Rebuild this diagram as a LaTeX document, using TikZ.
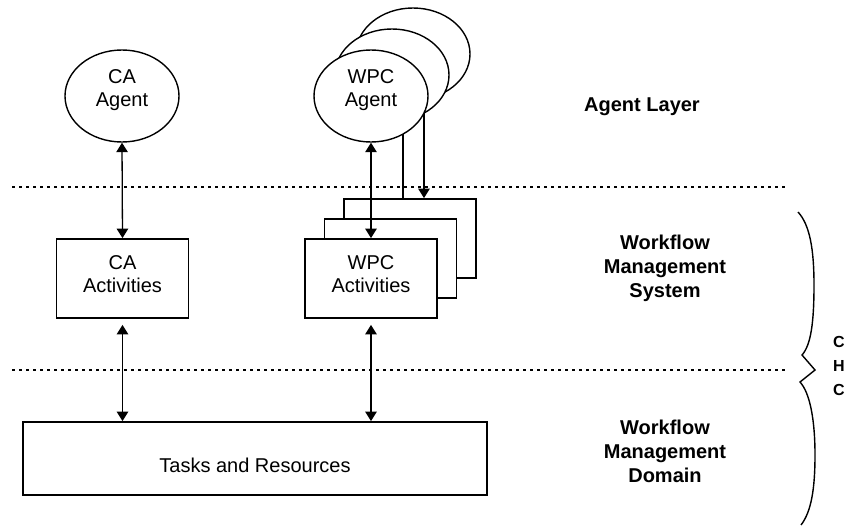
\documentclass[tikz,border=0pt]{standalone}
\usepackage{fontspec}
\setmainfont{Liberation Sans}
\usetikzlibrary{arrows.meta,backgrounds,shapes.geometric}

\tikzset{
  txt/.style={font=\fontsize{20}{23.5}\selectfont, align=center, inner sep=0pt},
  lbl/.style={font=\fontsize{20}{24}\selectfont\bfseries, align=center},
  agent/.style={ellipse, draw, line width=1.4pt, fill=white,
    minimum width=114pt, minimum height=92pt, inner sep=0pt},
  actbox/.style={rectangle, draw, line width=1.8pt, fill=white,
    minimum width=132pt, minimum height=79pt, inner sep=0pt},
  head/.tip={Triangle[length=9.5pt,width=11.5pt]},
  arr/.style={line width=1.3pt, -head},
  darr/.style={line width=1.3pt, head-head},
  sep/.style={line width=1.6pt, dash pattern=on 2.6pt off 4.4pt},
}

\begin{document}
\begin{tikzpicture}[x=1pt, y=-1pt]
\useasboundingbox (0,0) rectangle (848,527);

% agents (stacked copies behind the front one)
\node[agent] (ca) at (122,96) {};
\node[agent] (wpcC) at (413,54) {};
\node[agent] (wpcB) at (392,75) {};
\node[agent] (wpcA) at (371,96) {};
\node[txt] (caT) at (122,90) {CA\\Agent};
\node[txt] (wpcT) at (371,90) {WPC\\Agent};

% activities
\node[actbox] (caAct) at (122.5,278.5) {};
\node[actbox] (actC) at (410,238.5) {};
\node[actbox] (actB) at (390.5,258.5) {};
\node[actbox] (actA) at (371,278.5) {};
\node[txt] (caActT) at (122.5,274) {CA\\Activities};
\node[txt] (actAT) at (371,274) {WPC\\Activities};

% domain
\node[rectangle, draw, line width=1.8pt, minimum width=464pt,
  minimum height=73pt, inner sep=0pt] (tasks) at (255,458.5) {};
\node[txt] (tasksT) at (255,465) {Tasks and Resources};

% layer separators
\coordinate (s1l) at (12,187);
\coordinate (s1r) at (786,187);
\coordinate (s2l) at (12,370);
\coordinate (s2r) at (788,370);
\draw[sep] (s1l) -- (s1r);
\draw[sep] (s2l) -- (s2r);

% connectors
\draw[darr] (ca.south) -- (caAct.north);
\draw[darr] (wpcA.south) -- (actA.north);
\draw[darr, shorten <=6pt] (caAct.south) -- (caAct.south |- tasks.north);
\draw[darr, shorten <=6pt] (actA.south) -- (actA.south |- tasks.north);
\begin{pgfonlayer}{background}
  \draw[arr] ([xshift=11pt]wpcB.center) -- ([xshift=12.5pt]actB.north);
  \draw[arr] ([xshift=11pt]wpcC.center) -- ([xshift=14pt]actC.north);
\end{pgfonlayer}

% layer names
\node[lbl] (lAgent) at (642,107) {Agent Layer};
\node[lbl] (lWms) at (665,268) {Workflow\\Management\\System};
\node[lbl] (lWmd) at (665,451) {Workflow\\Management\\Domain};
\node[font=\fontsize{16}{24}\selectfont\bfseries, align=center] (lChc) at (839,366) {C\\H\\C};

% brace
\draw[line width=1.4pt] (798,212)
  .. controls (810,225) and (814,250) .. (814,285)
  .. controls (814,322) and (811,345) .. (802,355)
  -- (815,370) -- (800,382)
  .. controls (810,393) and (815,420) .. (815,455)
  .. controls (815,490) and (811,512) .. (801,525);
\end{tikzpicture}
\end{document}
